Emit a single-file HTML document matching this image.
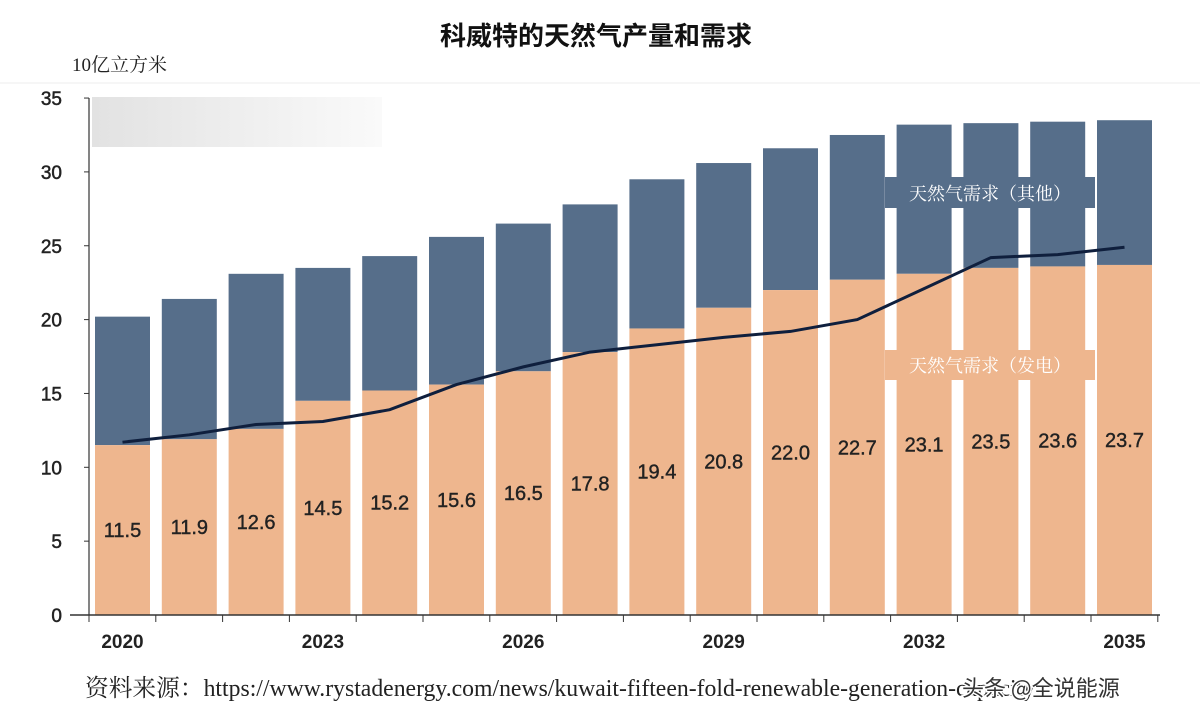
<!DOCTYPE html>
<html><head><meta charset="utf-8"><style>
body{margin:0;background:#fff;width:1200px;height:721px;overflow:hidden}
svg text{font-family:"Liberation Sans","Noto Sans CJK SC",sans-serif}
.serif{font-family:"Liberation Serif","Noto Serif CJK SC",serif}
</style></head><body>
<svg id="chart" width="1200" height="721">
<defs><linearGradient id="g" x1="0" x2="1" y1="0" y2="0"><stop offset="0" stop-color="#e2e2e2"/><stop offset="1" stop-color="#fafafa"/></linearGradient></defs>
<text x="596" y="45" text-anchor="middle" font-size="26" font-weight="bold" fill="#111" style="font-family:'Noto Sans CJK SC',sans-serif">科威特的天然气产量和需求</text>
<text x="72" y="71" class="serif" font-size="19" fill="#222">10亿立方米</text>
<line x1="0" y1="83" x2="1200" y2="83" stroke="#eee" stroke-width="1"/>
<rect x="92" y="97" width="290" height="50" fill="url(#g)"/>
<g id="bars"></g>
<g id="axes"></g>
<rect x="885" y="177" width="210" height="31" fill="#566e8a"/>
<text x="990" y="200" text-anchor="middle" class="serif" font-size="18" fill="#fff">天然气需求（其他）</text>
<rect x="885" y="350" width="210" height="30" fill="#eeb68e"/>
<text x="990" y="372" text-anchor="middle" class="serif" font-size="18" fill="#fff">天然气需求（发电）</text>
<g id="line"></g>
<text x="85" y="696" class="serif" font-size="24" fill="#222" textLength="950" lengthAdjust="spacingAndGlyphs">资料来源：https://www.rystadenergy.com/news/kuwait-fifteen-fold-renewable-generation-capacity</text>
<text x="962" y="696" font-size="22" fill="#333" style="font-family:'Noto Sans CJK SC',sans-serif;paint-order:stroke;stroke:#fff;stroke-width:3">头条 @全说能源</text>
</svg>
<script>
const years=[2020,2021,2022,2023,2024,2025,2026,2027,2028,2029,2030,2031,2032,2033,2034,2035];
const power=[11.5,11.9,12.6,14.5,15.2,15.6,16.5,17.8,19.4,20.8,22.0,22.7,23.1,23.5,23.6,23.7];
const total=[20.2,21.4,23.1,23.5,24.3,25.6,26.5,27.8,29.5,30.6,31.6,32.5,33.2,33.3,33.4,33.5];
const production=[11.7,12.2,12.9,13.1,13.9,15.6,16.8,17.8,18.3,18.8,19.2,20.0,22.1,24.2,24.4,24.9];
const yTicks=[0,5,10,15,20,25,30,35];
const xLabelYears=[2020,2023,2026,2029,2032,2035];
const NS='http://www.w3.org/2000/svg';
const y0=615,ppu=14.77,left=95,pitch=66.8,bw=55;
const Y=v=>y0-v*ppu, X=i=>left+i*pitch;
function mk(t,a,p){const e=document.createElementNS(NS,t);for(const k in a)e.setAttribute(k,a[k]);p.appendChild(e);return e;}
const bars=document.getElementById('bars'),axes=document.getElementById('axes'),line=document.getElementById('line');
years.forEach((yr,i)=>{
  const o=mk('rect',{x:X(i),y:Y(total[i]),width:bw,height:Y(power[i])-Y(total[i]),fill:'#566e8a'},bars);
  
  
  const p=mk('rect',{x:X(i),y:Y(power[i]),width:bw,height:y0-Y(power[i]),fill:'#eeb68e'},bars);
  
  
  const t=mk('text',{x:X(i)+bw/2,y:(Y(power[i])+y0)/2+7,'text-anchor':'middle','font-size':20,fill:'#222',stroke:'#222','stroke-width':0.4},bars);
  t.textContent=power[i].toFixed(1);
  
  
});
mk('line',{x1:89,y1:98,x2:89,y2:y0,stroke:'#333','stroke-width':1.2},axes);
mk('line',{x1:70,y1:y0,x2:1160,y2:y0,stroke:'#333','stroke-width':1.5},axes);
yTicks.forEach(v=>{
  mk('line',{x1:84,y1:Y(v),x2:89,y2:Y(v),stroke:'#333'},axes);
  const t=mk('text',{x:62,y:Y(v)+7,'text-anchor':'end','font-size':19,fill:'#222',stroke:'#222','stroke-width':0.5},axes);
  t.textContent=v;
  
  
});
for(let i=0;i<=years.length;i++){const x=89+i*pitch;mk('line',{x1:x,y1:y0,x2:x,y2:y0+7,stroke:'#333'},axes);}
xLabelYears.forEach(yr=>{
  const i=years.indexOf(yr);
  const t=mk('text',{x:X(i)+bw/2,y:648,'text-anchor':'middle','font-size':19,'font-weight':'bold',fill:'#222'},axes);
  t.textContent=yr;
  
  
});
const pts=production.map((v,i)=>(X(i)+bw/2)+','+Y(v)).join(' ');
const pl=mk('polyline',{points:pts,fill:'none',stroke:'#0f1f3d','stroke-width':3},line);


</script>
</body></html>
